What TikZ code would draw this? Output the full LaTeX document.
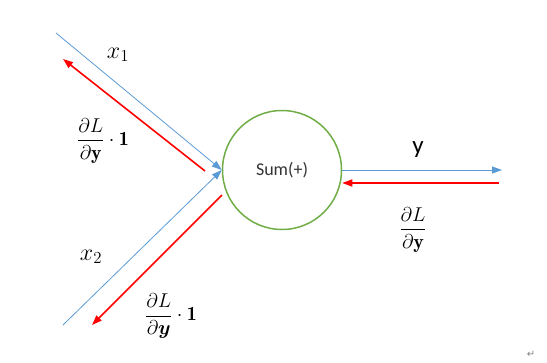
\RequirePackage{fix-cm}
\documentclass[tikz,border=0pt]{standalone}
\usepackage{amsmath,amssymb}
\usepackage{fontspec}
\setsansfont{Carlito}
\newfontfamily\markfont{DejaVu Sans}
\usepackage{xcolor}
\usepackage{tikz}
\usetikzlibrary{arrows.meta, positioning}
\definecolor{fwdblue}{HTML}{5B9BD5}
\definecolor{backred}{HTML}{FF0000}
\definecolor{opgreen}{HTML}{70AD47}

\begin{document}
\begin{tikzpicture}[x=1pt, y=-1pt,
    op/.style={circle, draw=opgreen, line width=1.5pt, minimum size=119pt, inner sep=0pt, font=\sffamily\fontsize{18}{21}\selectfont, text=black!80},
    fwd/.style={draw=fwdblue, line width=0.8pt, -{Triangle[length=10pt,width=7pt]}},
    bwd/.style={draw=backred, line width=1.6pt, -{Triangle[length=10pt,width=7pt]}},
    lbl/.style={font=\fontsize{20}{24}\selectfont, inner sep=0pt}
]
    \useasboundingbox (0,0) rectangle (547,362);

    % NODE: SUM GATE
    \node (Sum) [op] at (282,170) {Sum(+)};

    % LEFT: INPUTS
    \coordinate (X1in) at (56,33);
    \coordinate (X2in) at (63,325);
    \draw[fwd] (X1in) -- (Sum.west);
    \draw[fwd] (X2in) -- (Sum.west);
    \node (X1) [lbl, font=\fontsize{24}{28}\selectfont] at (118,55) {$x_1$};
    \node (X2) [lbl, font=\fontsize{24}{28}\selectfont] at (91,257) {$x_2$};

    % LEFT: GRADIENTS
    \coordinate (G1from) at (205,171);
    \coordinate (G1to) at (63,59);
    \coordinate (G2from) at (222,195);
    \coordinate (G2to) at (92,325);
    \draw[bwd] (G1from) -- (G1to);
    \draw[bwd] (G2from) -- (G2to);
    \node (G1) [lbl] at (103,141) {$\dfrac{\partial L}{\partial \mathbf{y}}\cdot\mathbf{1}$};
    \node (G2) [lbl] at (171,316) {$\dfrac{\partial L}{\partial \boldsymbol{y}}\cdot\mathbf{1}$};

    % RIGHT: OUTPUT
    \coordinate (Yout) at (502,170);
    \coordinate (Yback) at (499,183);
    \draw[fwd] (Sum.east) -- (Yout);
    \draw[bwd] (Yback) -- (Yback -| Sum.east);
    \node (Y) [lbl, font=\sffamily\fontsize{25}{28}\selectfont] at (418,150) {y};
    \node (GY) [lbl] at (413,230) {$\dfrac{\partial L}{\partial \mathbf{y}}$};

    \node (Mark) [font=\markfont\fontsize{10}{12}\selectfont, text=gray, inner sep=0pt] at (531,354) {↵};
\end{tikzpicture}
\end{document}
